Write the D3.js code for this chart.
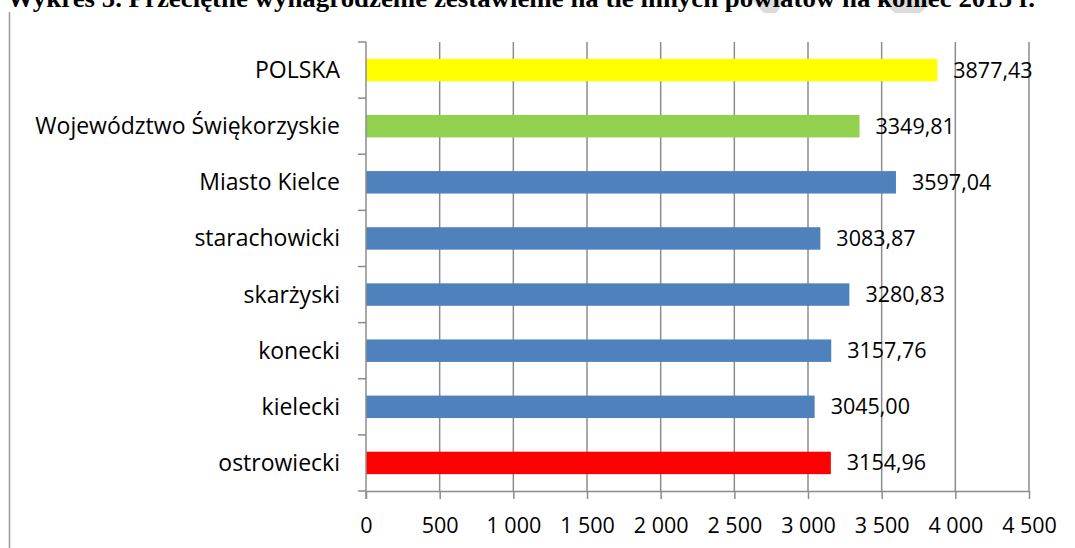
<!DOCTYPE html>
<html>
<head>
<meta charset="utf-8">
<script src="https://cdn.jsdelivr.net/npm/d3@7.9.0/dist/d3.min.js"></script>
<style>
  body { margin: 0; background: #fff; }
  svg { display: block; }
  .lbl { font-family: 'Open Sans', sans-serif; font-size: 21.5px; fill: #000; }
  .cat { font-size: 23px; }
</style>
</head>
<body>
<svg id="chart" width="1075" height="548"></svg>
<script>
const categories = ['POLSKA', 'Województwo Świękorzyskie', 'Miasto Kielce', 'starachowicki',
  'skarżyski', 'konecki', 'kielecki', 'ostrowiecki'];
const values = [3877.43, 3349.81, 3597.04, 3083.87, 3280.83, 3157.76, 3045.00, 3154.96];
const barColors = ['#ffff00', '#92d050', '#4f81bd', '#4f81bd', '#4f81bd', '#4f81bd', '#4f81bd', '#ff0000'];
const xTicks = [0, 500, 1000, 1500, 2000, 2500, 3000, 3500, 4000, 4500];
const title = 'Wykres 5. Przeciętne wynagrodzenie zestawienie na tle innych powiatów na koniec 2015 r.';

const svg = d3.select('#chart');
const margin = { top: 42, left: 366, right: 46, bottom: 57 };
const width = 1075 - margin.left - margin.right;
const height = 548 - margin.top - margin.bottom;
const gridColor = '#8c8c8c';

// faint watermark pieces behind the title (scanned page)
svg.append('path')
  .attr('d', 'M752,0 L786,0 L776,13 L764,13 Z M880,0 L935,0 L920,13 L895,13 Z')
  .attr('fill', '#dcdcdc');

// title, cut at the top like the scanned page
svg.append('text')
  .attr('x', 7)
  .attr('y', 7)
  .attr('textLength', 1028)
  .attr('lengthAdjust', 'spacingAndGlyphs')
  .attr('font-family', 'Liberation Serif, Times New Roman, serif')
  .attr('font-weight', 'bold')
  .attr('font-size', 25)
  .text(title);

// frame line on the left
svg.append('line')
  .attr('x1', 9.5).attr('x2', 9.5)
  .attr('y1', 12).attr('y2', 548)
  .attr('stroke', '#9a9a9a').attr('stroke-width', 1.5);

const x = d3.scaleLinear().domain([0, 4500]).range([0, width]);
const y = d3.scaleBand().domain(categories).range([0, height]).paddingInner(0.6).paddingOuter(0.3);

const g = svg.append('g').attr('transform', `translate(${margin.left},${margin.top})`);

// vertical gridlines
g.selectAll('.grid')
  .data(xTicks.slice(1))
  .join('line')
  .attr('x1', (d) => x(d)).attr('x2', (d) => x(d))
  .attr('y1', 0).attr('y2', height)
  .attr('stroke', gridColor).attr('stroke-width', 1.5);

// bars
g.selectAll('.bar')
  .data(values)
  .join('rect')
  .attr('x', 0)
  .attr('y', (d, i) => y(categories[i]))
  .attr('width', (d) => x(d))
  .attr('height', y.bandwidth())
  .attr('fill', (d, i) => barColors[i]);

// value labels
g.selectAll('.val')
  .data(values)
  .join('text')
  .attr('class', 'lbl')
  .attr('x', (d) => x(d) + 16)
  .attr('y', (d, i) => y(categories[i]) + y.bandwidth() / 2)
  .attr('dy', '0.35em')
  .text((d) => d3.format('.2f')(d).replace('.', ','));

// x axis
const fmt = (d) => d3.format(',')(d).replace(/,/g, ' ');
const xAxis = g.append('g')
  .attr('transform', `translate(0,${height})`)
  .call(d3.axisBottom(x).tickValues(xTicks).tickFormat(fmt).tickSize(8).tickSizeOuter(0));
xAxis.select('.domain').attr('stroke', gridColor).attr('stroke-width', 1.5);
xAxis.selectAll('.tick line').attr('stroke', gridColor).attr('stroke-width', 1.5);
xAxis.selectAll('.tick text')
  .attr('class', 'lbl')
  .attr('y', 34)
  .attr('dy', '0.35em');

// y axis: line, ticks between categories
g.append('line')
  .attr('x1', 0).attr('x2', 0).attr('y1', 0).attr('y2', height + 8)
  .attr('stroke', gridColor).attr('stroke-width', 1.5);
const step = height / categories.length;
g.selectAll('.ytick')
  .data(d3.range(categories.length + 1))
  .join('line')
  .attr('x1', -8).attr('x2', 0)
  .attr('y1', (d) => d * step).attr('y2', (d) => d * step)
  .attr('stroke', gridColor).attr('stroke-width', 1.5);

// category labels
g.selectAll('.cat')
  .data(categories)
  .join('text')
  .attr('class', 'lbl cat')
  .attr('x', -26)
  .attr('y', (d) => y(d) + y.bandwidth() / 2)
  .attr('dy', '0.35em')
  .attr('text-anchor', 'end')
  .text((d) => d);
</script>
</body>
</html>
